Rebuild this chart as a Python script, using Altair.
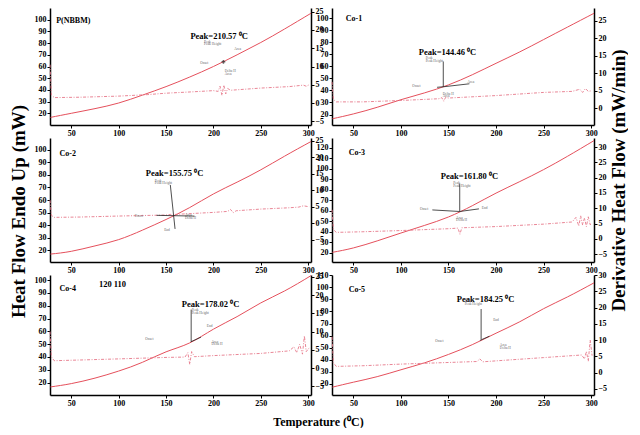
import altair as alt
import pandas as pd

SERIF = "Liberation Serif"
RED = "#e5505c"
RED2 = "#e7788a"
XDOM = [27.5, 303]

# ---------------- data ----------------
panel_names = ["P(NBBM)", "Co-1", "Co-2", "Co-3", "Co-4", "Co-5"]
peak_temps = [210.57, 144.46, 155.75, 161.80, 178.02, 184.25]
peak_texts = ["Peak=210.57 \u2070C", "Peak=144.46 \u2070C", "Peak=155.75 \u2070C",
              "Peak=161.80 \u2070C", "Peak=178.02 \u2070C", "Peak=184.25 \u2070C"]

# axis domains (left: Heat Flow mW, right: derivative mW/min)
left_domains = [[10, 110], [11.3, 108.4], [10.7, 109.3], [11.4, 129.5], [10.3, 104], [10.8, 110.2]]
left_ticks = [[20, 30, 40, 50, 60, 70, 80, 90, 100]] * 3 + \
             [[20, 30, 40, 50, 60, 70, 80, 90, 100, 110, 120],
              [20, 30, 40, 50, 60, 70, 80, 90, 100],
              [20, 30, 40, 50, 60, 70, 80, 90, 100, 110]]
right_domains = [[-6, 26], [-4.8, 28.6], [-11.7, 25.8], [-7.6, 33], [-7.4, 25.5], [-6.9, 30]]
right_ticks = [[-5, 0, 5, 10, 15, 20, 25], [0, 5, 10, 15, 20, 25], [-5, 0, 5, 10, 15, 20, 25],
               [-5, 0, 5, 10, 15, 20, 25, 30], [-5, 0, 5, 10, 15, 20, 25], [-5, 0, 5, 10, 15, 20, 25, 30]]
x_ticks = [50, 100, 150, 200, 250, 300]

# heat flow (solid) curves
hf_temp = [28, 50, 75, 100, 125, 150, 175, 200, 225, 250, 275, 303]
hf_p0 = [16.5, 20.0, 24.0, 28.8, 35.5, 42.8, 51.0, 60.0, 70.0, 80.5, 92.0, 105.5]
hf_p1 = [16.5, 20.5, 26.0, 32.3, 38.0, 44.6, 53.0, 62.5, 72.0, 82.2, 92.5, 104.0]
hf_p2 = [17.0, 19.2, 23.5, 28.5, 36.0, 44.5, 54.0, 64.8, 74.2, 84.0, 94.8, 106.5]
hf_p3 = [20.6, 24.8, 31.5, 39.0, 46.3, 54.3, 65.0, 77.0, 88.0, 99.4, 112.0, 127.0]
hf_p4 = [16.6, 19.2, 23.5, 29.0, 35.8, 44.0, 51.0, 61.7, 71.5, 82.2, 91.5, 103.5]
hf_p5 = [17.3, 21.4, 26.0, 31.7, 37.5, 44.4, 52.5, 62.0, 71.5, 82.3, 92.0, 103.7]
hf_all = [hf_p0, hf_p1, hf_p2, hf_p3, hf_p4, hf_p5]

# derivative (dotted) curves
d0_t = [27.5, 29, 32, 60, 100, 130, 150, 180, 200, 205, 207, 209, 211, 213, 215, 218, 250, 280, 295, 298, 301]
d0_v = [10.5, 2.2, 1.5, 1.6, 1.9, 2.3, 2.7, 3.1, 3.4, 3.2, 4.6, 2.1, 4.9, 2.5, 4.0, 3.5, 4.1, 4.5, 4.9, 4.6, 5.0]
d1_t = [27.5, 29, 32, 60, 100, 140, 143, 145, 147, 150, 200, 250, 280, 288, 291, 294, 297, 301]
d1_v = [7.5, 2.5, 1.8, 1.8, 2.2, 2.7, 3.0, 2.0, 3.1, 2.9, 3.6, 4.5, 4.8, 5.4, 4.5, 5.6, 4.8, 5.0]
d2_t = [27.5, 29, 32, 60, 100, 150, 155, 158, 160, 200, 215, 218, 221, 224, 250, 280, 290, 295, 301]
d2_v = [7.0, 2.4, 1.8, 1.9, 2.2, 2.5, 2.7, 2.3, 2.7, 3.3, 3.6, 4.2, 3.2, 3.8, 4.3, 4.7, 4.9, 5.3, 5.0]
d3_t = [27.5, 29, 32, 60, 100, 150, 160, 162, 164, 200, 250, 280, 284, 287, 289, 291, 293, 295, 297, 299, 301]
d3_v = [9.5, 3.0, 2.1, 2.3, 2.7, 3.3, 3.5, 1.5, 3.6, 4.0, 4.8, 5.5, 7.0, 4.2, 7.5, 4.5, 6.8, 4.0, 7.2, 4.6, 5.1]
d4_t = [27.5, 29, 32, 60, 100, 150, 170, 173, 175, 177, 180, 200, 250, 280, 285, 288, 291, 294, 296, 298, 301]
d4_v = [10.0, 3.0, 2.0, 2.2, 2.5, 2.9, 3.0, 4.2, 1.0, 4.5, 3.1, 3.4, 4.0, 4.7, 5.8, 4.2, 6.5, 3.8, 8.8, 4.5, 5.5]
d5_t = [27.5, 29, 32, 60, 100, 150, 180, 183, 186, 200, 250, 290, 293, 295, 297, 299, 301]
d5_v = [11.0, 3.0, 1.9, 2.1, 2.6, 3.1, 3.4, 4.2, 3.3, 3.6, 4.6, 5.4, 4.2, 6.5, 3.5, 10.0, 5.2]
d_all = [(d0_t, d0_v), (d1_t, d1_v), (d2_t, d2_v), (d3_t, d3_v), (d4_t, d4_v), (d5_t, d5_v)]

# label positions (temperature, left-axis value)
name_x = [34, 42, 37.5, 45, 37.5, 45]
name_y = [99.3, 99, 96.6, 115, 93, 98]
peak_lx = [206, 149, 159, 172, 197, 189]
peak_ly = [86, 72, 81.5, 93, 81.4, 90.5]
peak_hf = [64, 43, 47, 59.5, 52, 56.5]

# annotation segments [x1, y1, x2, y2] in left-axis units
seg_p0 = []
seg_p1 = [[144.5, 43, 144.5, 64], [138, 42.6, 144.5, 43], [144.5, 43, 172, 45.5]]
seg_p2 = [[154.5, 72, 159.5, 37], [140, 47.8, 180, 47.2]]
seg_p3 = [[161.8, 86, 161.8, 59.5], [133, 61, 161.8, 59.5], [161.8, 59.5, 182, 62]]
seg_p4 = [[176.5, 77, 176.5, 52], [176, 51.8, 187, 55.5]]
seg_p5 = [[184.3, 82, 184.3, 57], [183, 56, 193, 59.5]]
seg_all = [seg_p0, seg_p1, seg_p2, seg_p3, seg_p4, seg_p5]

# tiny instrument labels [x, y, text]
tiny_p0 = [[190, 81, "Peak"], [190, 79, "Peak Height"], [222, 75, "Area"], [186, 63, "Onset"], [212, 56, "Delta H"], [212, 54, "Area"]]
tiny_p1 = [[126, 66.7, "Peak"], [126, 64.5, "Peak Height"], [112, 43.8, "Onset"], [170, 47, "Area"], [144, 37, "Delta H"], [144, 35, "Area"]]
tiny_p2 = [[138, 75, "Peak"], [138, 73.5, "Peak Height"], [117, 47.4, "Onset"], [170, 48, "Area"], [170, 46, "Delta H"], [148, 36, "End"]]
tiny_p3 = [[155, 86.6, "Peak"], [155, 84, "Peak Height"], [120, 61.6, "Onset"], [185, 63, "End"], [158, 53, "Area"], [158, 51, "Delta H"]]
tiny_p4 = [[177, 76.4, "Peak"], [177, 74, "Peak Height"], [128, 54.4, "Onset"], [193, 64.5, "End"], [198, 52, "Area"], [198, 50, "Delta H"]]
tiny_p5 = [[167, 88.5, "Peak"], [167, 86, "Peak Height"], [136, 55.6, "Onset"], [197, 72.7, "End"], [204, 52.4, "Area"], [204, 50, "Delta H"]]
tiny_all = [tiny_p0, tiny_p1, tiny_p2, tiny_p3, tiny_p4, tiny_p5]

extra_text = ["120  110"]
extra_x = [93.5]
extra_y = [96.9]

widths = [261, 262]
heights = [117, 124, 120]


def xenc():
    return alt.X("T:Q", scale=alt.Scale(domain=XDOM, nice=False, zero=False),
                 axis=alt.Axis(values=x_ticks, title=None, grid=False, labelPadding=1))


def panel(i):
    ld, rd = left_domains[i], right_domains[i]
    row, col = i // 2, i % 2
    lscale = alt.Scale(domain=ld, nice=False, zero=False)
    rscale = alt.Scale(domain=rd, nice=False, zero=False)

    laxis_kw = dict(values=left_ticks[i], grid=False, orient="left", labelPadding=1)
    if i == 2:
        laxis_kw.update(title="Heat Flow Endo Up (mW)", titleAngle=270, titleAlign="center",
                        titleBaseline="bottom", titleX=-22, titleY=73, titleFontSize=19)
    else:
        laxis_kw.update(title=None)
    raxis_kw = dict(values=right_ticks[i], grid=False, orient="right", labelPadding=1)
    if i == 3:
        raxis_kw.update(title="Derivative Heat Flow (mW/min)", titleAngle=270, titleAlign="center",
                        titleBaseline="bottom", titleX=34, titleY=42, titleFontSize=19)
    else:
        raxis_kw.update(title=None)

    df_hf = pd.DataFrame({"T": hf_temp, "HF": hf_all[i]})
    solid = alt.Chart(df_hf).mark_line(color=RED, strokeWidth=1.0, interpolate="natural", clip=True).encode(
        x=xenc(), y=alt.Y("HF:Q", scale=lscale, axis=alt.Axis(**laxis_kw)))

    dt, dv = d_all[i]
    df_d = pd.DataFrame({"T": dt, "D": dv})
    dotted = alt.Chart(df_d).mark_line(color=RED2, strokeWidth=0.9, strokeDash=[3, 1.5, 1, 1.5]).encode(
        x=xenc(), y=alt.Y("D:Q", scale=rscale, axis=alt.Axis(**raxis_kw)))

    layers = [solid, dotted]

    df_name = pd.DataFrame({"T": [name_x[i]], "V": [name_y[i]], "txt": [panel_names[i]]})
    layers.append(alt.Chart(df_name).mark_text(font=SERIF, fontWeight="bold", fontSize=8, align="left",
                                                baseline="middle", color="black").encode(
        x=xenc(), y=alt.Y("V:Q", scale=lscale, axis=None), text="txt:N"))

    df_peak = pd.DataFrame({"T": [peak_lx[i]], "V": [peak_ly[i]], "txt": [peak_texts[i]]})
    layers.append(alt.Chart(df_peak).mark_text(font=SERIF, fontWeight="bold", fontSize=8.5, align="center",
                                                baseline="middle", color="black").encode(
        x=xenc(), y=alt.Y("V:Q", scale=lscale, axis=None), text="txt:N"))

    tiny = tiny_all[i]
    df_tiny = pd.DataFrame({"T": [t[0] for t in tiny], "V": [t[1] for t in tiny], "txt": [t[2] for t in tiny]})
    layers.append(alt.Chart(df_tiny).mark_text(font=SERIF, fontSize=3.5, align="left", baseline="middle",
                                                color="#666666").encode(
        x=xenc(), y=alt.Y("V:Q", scale=lscale, axis=None), text="txt:N"))

    segs = seg_all[i]
    if segs:
        df_seg = pd.DataFrame({"T": [s[0] for s in segs], "V": [s[1] for s in segs],
                               "T2": [s[2] for s in segs], "V2": [s[3] for s in segs]})
        layers.append(alt.Chart(df_seg).mark_rule(color="#222222", strokeWidth=0.8).encode(
            x=xenc(), x2="T2:Q", y=alt.Y("V:Q", scale=lscale, axis=None), y2="V2:Q"))
    else:
        df_pt = pd.DataFrame({"T": [peak_temps[i]], "V": [peak_hf[i]]})
        layers.append(alt.Chart(df_pt).mark_point(shape="cross", size=14, filled=True, color="#222222").encode(
            x=xenc(), y=alt.Y("V:Q", scale=lscale, axis=None)))

    if i == 4:
        df_ex = pd.DataFrame({"T": extra_x, "V": extra_y, "txt": extra_text})
        layers.append(alt.Chart(df_ex).mark_text(font=SERIF, fontWeight="bold", fontSize=8.5, align="center",
                                                  baseline="middle", color="black").encode(
            x=xenc(), y=alt.Y("V:Q", scale=lscale, axis=None), text="txt:N"))

    return alt.layer(*layers).resolve_scale(y="independent").properties(
        width=widths[col], height=heights[row])


panels = [panel(i) for i in range(6)]

chart = alt.concat(*panels, columns=2, spacing={"row": 13, "column": 21}, bounds="flush").properties(
    padding={"left": 0, "top": -1, "right": 0, "bottom": 0},
    title=alt.TitleParams("Temperature (\u2070C)", orient="bottom", anchor="middle", font=SERIF,
                          fontSize=12, fontWeight="bold", offset=10, color="black"),
).configure_view(strokeWidth=0).configure_axis(
    labelFont=SERIF, labelFontWeight="bold", labelFontSize=8, labelColor="black",
    domainColor="black", domainWidth=1.5, tickColor="black", tickSize=3, tickWidth=1,
    titleFont=SERIF, titleFontWeight="bold", titleColor="black",
)

chart.save("out.html", embed_options={"renderer": "svg", "actions": False})
